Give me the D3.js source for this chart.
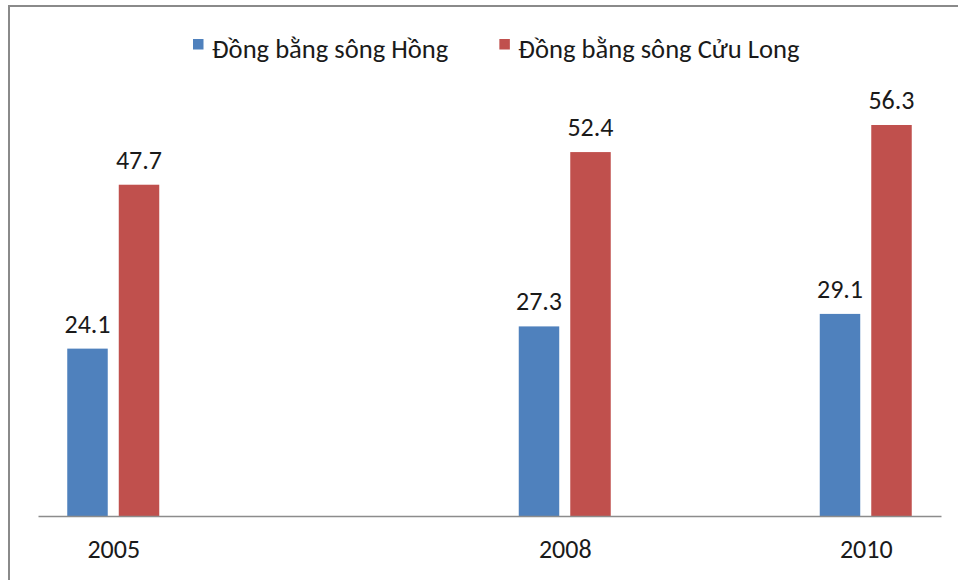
<!DOCTYPE html>
<html>
<head>
<meta charset="utf-8">
<script src="https://cdn.jsdelivr.net/npm/d3@7"></script>
<style>
    body { margin: 0; background: #fff; }
    text { font-family: Calibri, Carlito, "Open Sans", sans-serif; fill: #1a1a1a; }
</style>
</head>
<body>
<div id="chart"></div>
<script>
const years = [2005, 2008, 2010];
const series = ["Đồng bằng sông Hồng", "Đồng bằng sông Cửu Long"];
const hongValues = [24.1, 27.3, 29.1];
const cuuLongValues = [47.7, 52.4, 56.3];
const colors = ["#4f81bd", "#c0504d"];

const w = 958;
const h = 580;
const baseY = 516;
const fontSize = "26px";

const svg = d3.select("#chart")
    .append("svg")
    .attr("width", w)
    .attr("height", h);

// frame (top + left edges of the chart box)
svg.append("path")
    .attr("d", "M9,580V6H958")
    .attr("fill", "none")
    .attr("stroke", "#8a8a8a")
    .attr("stroke-width", 2);

// years are placed on a linear time axis
const x = d3.scaleLinear()
    .domain([2004.5, 2010.5])
    .range([38, 941]);

const y = d3.scaleLinear()
    .domain([0, 60])
    .range([baseY, baseY - 60 * 6.945]);

const inner = d3.scaleBand()
    .domain(series)
    .range([-46, 46])
    .paddingInner(0.214);

const rows = years.map((yr, i) => ({
    year: yr,
    values: [hongValues[i], cuuLongValues[i]]
}));

const groups = svg.append("g")
    .attr("id", "bars")
    .selectAll("g")
    .data(rows)
    .enter()
    .append("g")
    .attr("transform", d => "translate(" + x(d.year) + ",0)");

groups.selectAll("rect")
    .data(d => d.values.map((v, j) => ({ s: series[j], v: v, c: colors[j] })))
    .enter()
    .append("rect")
    .attr("x", d => inner(d.s))
    .attr("y", d => y(d.v))
    .attr("width", inner.bandwidth())
    .attr("height", d => baseY - y(d.v))
    .attr("fill", d => d.c);

groups.selectAll("text")
    .data(d => d.values.map((v, j) => ({ s: series[j], v: v })))
    .enter()
    .append("text")
    .attr("x", d => inner(d.s) + inner.bandwidth() / 2)
    .attr("y", d => y(d.v) - 16)
    .attr("text-anchor", "middle")
    .style("font-size", fontSize)
    .text(d => d.v.toFixed(1));

// axis
const xAxis = d3.axisBottom(x)
    .tickValues(years)
    .tickFormat(d3.format("d"))
    .tickSize(0)
    .tickPadding(23.5);

const axisG = svg.append("g")
    .attr("transform", "translate(0," + baseY + ")")
    .call(xAxis);
axisG.select(".domain")
    .attr("stroke", "#8c8c8c")
    .attr("stroke-width", 1.5);
axisG.selectAll("text")
    .style("font-size", fontSize)
    .attr("fill", "#1a1a1a");

// legend
const legend = svg.append("g").attr("id", "legend");
let lx = 193;
series.forEach((name, i) => {
    legend.append("rect")
        .attr("x", lx)
        .attr("y", 39)
        .attr("width", 10.5)
        .attr("height", 10.5)
        .attr("fill", colors[i]);
    const t = legend.append("text")
        .attr("x", lx + 19)
        .attr("y", 58)
        .style("font-size", "26.6px")
        .text(name);
    lx += 19 + t.node().getComputedTextLength() + 51;
});
</script>
</body>
</html>
